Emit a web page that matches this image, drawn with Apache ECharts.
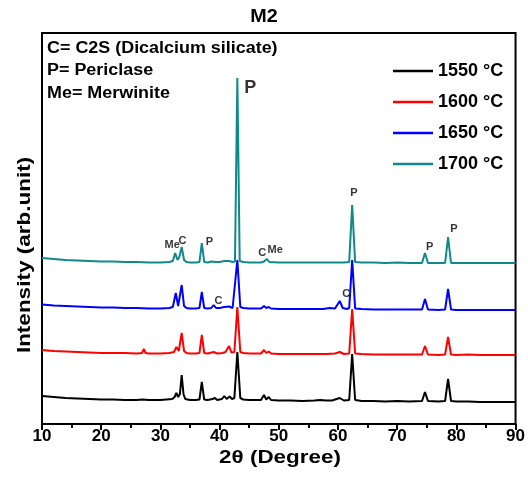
<!DOCTYPE html>
<html>
<head>
<meta charset="utf-8">
<script src="https://cdn.jsdelivr.net/npm/echarts@6/dist/echarts.min.js"></script>
<style>
html,body{margin:0;padding:0;background:#fff;}
#chart{width:528px;height:482px;}
</style>
</head>
<body>
<div id="chart"></div>
<script>
// ---- data (2θ in degrees, stacked intensity in arbitrary units) ----
var seriesNames = ['1550 °C', '1600 °C', '1650 °C', '1700 °C'];
var xTicks = [10, 20, 30, 40, 50, 60, 70, 80, 90];

var black1550 = [
[10,28],[12,27],[14,26],[16,25.5],[18,25],[20,24.5],[22,24.5],[24,24],[26,24],[27,24.5],[28,24],[30,24],[31,24.5],[32,25],
[32.4,27],[32.7,31],[33.0,27],[33.3,30],[33.6,49],[33.9,30],[34.2,25],[35,24],[36,24],[36.6,24.5],[37.0,42],[37.4,24.5],[38,24],[38.8,25],[39.2,26],[39.6,24],[40.4,25],[40.8,28],[41.2,25],[41.7,27.5],[42.1,25],[42.5,26],
[43.0,72],[43.5,26],[44,24.5],[45,24],[46,24],[47,24],[47.5,29],[47.9,24.5],[48.3,27],[48.7,24],[50,23.5],[52,23.5],[54,23],[56,23.5],[57,24],[58,23.5],[59,23.5],[60.3,26],[61,23.5],[61.9,24],
[62.4,70],[62.9,24],[64,23],[66,23],[68,22.5],[70,23],[72,22.5],[74.2,23],[74.7,32],[75.2,23],[77,22.5],[78.1,23],[78.6,45],[79.1,23],[80,22.5],[82,22.5],[84,22],[86,22],[88,22],[90,22]
];
var red1600 = [
[10,74],[12,73],[14,72.5],[16,72],[18,71.5],[20,71],[22,71],[24,71],[26,70.5],[26.9,71],[27.2,75],[27.5,71],[28,70.5],[30,70.5],[31.5,71],[32.3,72],[32.7,77],[33.1,73],[33.6,91],[34.0,73],[34.4,71],
[35,70.5],[36,70.5],[36.6,71],[37.0,89],[37.4,71],[38,70.5],[39,72],[39.6,70.5],[40.5,71],[41.0,72],[41.6,78],[42.0,71.5],[42.5,72],[43.0,117],[43.5,72],[44,71],[45,70.5],[46,70.5],[47,70.5],
[47.5,74],[47.9,71],[48.3,72.5],[48.7,70.5],[50,70],[52,70],[54,70],[56,70],[58,70],[59.5,70.5],[60.3,72],[61,70],[61.9,70.5],[62.4,115],[62.9,70.5],[64,70],[66,69.5],[68,69.5],[70,69.5],[72,69.5],
[74.2,69.5],[74.7,78],[75.2,69.5],[77,69],[78.1,69.5],[78.6,87],[79.1,69.5],[80,69],[82,69.5],[84,69],[86,69],[88,69],[90,69]
];
var blue1650 = [
[10,119.5],[12,118.5],[14,118],[16,117.5],[18,117],[20,116.5],[22,116.5],[24,116],[26,116],[28,115.5],[30,115.5],[31.5,116],[32.1,117],[32.6,131],[33.0,118],[33.6,139],[34.0,118],[34.4,116],
[35,115.5],[36,115.5],[36.6,116],[37.0,132],[37.4,116],[38,115.5],[38.6,116],[39.0,119],[39.4,116],[40,116],[40.8,117],[41.6,117.5],[42.2,116],[42.5,116.5],[43.0,164],[43.5,117],[44,116],[45,115.5],[46,115.5],[47,115.5],
[47.5,118],[47.9,116],[48.3,117],[48.7,115.5],[50,115],[52,115],[54,115],[56,115],[57.5,115],[58.6,116],[59.5,115.5],[60.3,123],[60.8,116],[61.5,115],[61.9,116],[62.4,164],[62.9,115.5],[64,115],[66,114.5],[68,114.5],[70,114.5],[72,114.5],
[74.2,114.5],[74.7,125],[75.2,114.5],[77,114],[78.1,114.5],[78.6,135],[79.1,114.5],[80,114],[82,114],[84,114],[86,114],[88,114],[90,114]
];
var teal1700 = [
[10,166],[12,165],[14,164],[16,163.5],[18,163],[20,162.5],[22,162.5],[24,162],[26,162],[28,161.5],[30,161.5],[31.5,162],[32.1,163],[32.5,171],[32.9,164],[33.2,167],[33.6,177],[34.0,164],[34.4,162],
[35,161.5],[36,161.5],[36.6,162],[37.0,181],[37.4,162],[38,161.5],[38.6,162.5],[39.4,162],[40,162],[40.8,163],[41.6,163],[42.2,162],[42.6,162.5],[43.0,346],[43.4,163],[44,162],[45,161.5],[46,161.5],[47,161.5],
[47.5,162.5],[48.0,165],[48.4,162],[50,161.5],[52,161.5],[54,161.5],[56,161.5],[58,161.5],[60,161.5],[61,161.5],[61.9,162],[62.4,219],[62.9,162],[64,161.5],[66,161.5],[68,161],[70,161.5],[72,161],
[74.2,161],[74.7,171],[75.2,161],[77,161],[78.1,161],[78.6,187],[79.1,161],[80,161],[82,161],[84,161],[86,161],[88,161],[90,161]
];

// phase annotations: [label, 2θ, intensity, fontSize]
var annotations = [
['Me', 32.0, 179, 11], ['C', 33.75, 183, 11], ['P', 38.3, 182, 11],
['C', 39.8, 123, 11], ['C', 47.2, 171, 11], ['Me', 49.4, 174, 11],
['P', 45.2, 336, 18], ['P', 62.7, 231, 11], ['C', 61.4, 130, 11],
['P', 75.5, 177, 11], ['P', 79.6, 195, 11]
];
var keyLines = ['C= C2S (Dicalcium silicate)', 'P= Periclase', 'Me= Merwinite'];

// ---- chart ----
var FONT = '"Liberation Sans", Arial, sans-serif';
var colors = ['#000000', '#ff0000', '#0000ff', '#10898a'];
var dataSets = [black1550, red1600, blue1650, teal1700];

var chart = echarts.init(document.getElementById('chart'), null, {renderer: 'canvas'});

var series = dataSets.map(function (d, i) {
  return {
    name: seriesNames[i], type: 'line', data: d, showSymbol: false, symbol: 'none',
    lineStyle: {width: 2, color: colors[i]}, itemStyle: {color: colors[i]},
    animation: false, z: 2 + i
  };
});
series.push({
  type: 'scatter', symbolSize: 0, silent: true, animation: false, z: 10,
  data: annotations.map(function (a) {
    return {value: [a[1], a[2]], label: {show: true, position: 'inside', formatter: a[0],
      fontSize: a[3], fontWeight: 'bold', color: '#000', fontFamily: FONT}};
  })
});

var centers = [49, 71, 94];
var graphics = keyLines.map(function (t, i) {
  return {type: 'text', x: 47, y: centers[i], scaleX: 1.12, z: 20,
    style: {text: t, font: 'bold 16px ' + FONT, fill: '#000', textVerticalAlign: 'middle'}};
});
graphics.push({type: 'text', x: 25, y: 255, rotation: Math.PI / 2, scaleX: 1.25, z: 20,
  style: {text: 'Intensity (arb.unit)', font: 'bold 18px ' + FONT, fill: '#000',
    textAlign: 'center', textVerticalAlign: 'middle'}});
graphics.push({type: 'text', x: 280, y: 458, scaleX: 1.18, z: 20,
  style: {text: '2θ (Degree)', font: 'bold 19px ' + FONT, fill: '#000',
    textAlign: 'center', textVerticalAlign: 'middle'}});
graphics.push({type: 'text', x: 264, y: 17, scaleX: 1.1, z: 20,
  style: {text: 'M2', font: 'bold 18px ' + FONT, fill: '#000',
    textAlign: 'center', textVerticalAlign: 'middle'}});

chart.setOption({
  backgroundColor: '#fff',
  animation: false,
  grid: {left: 42, right: 11, top: 33, bottom: 58, show: true, borderColor: '#000', borderWidth: 2, backgroundColor: 'transparent'},
  legend: {
    data: seriesNames, orient: 'vertical', left: 388, top: 57,
    icon: 'rect', itemWidth: 40, itemHeight: 2.5, itemGap: 13,
    textStyle: {fontSize: 18, fontWeight: 'bold', color: '#000', fontFamily: FONT}
  },
  xAxis: {
    type: 'value', min: xTicks[0], max: xTicks[xTicks.length - 1], interval: 10,
    axisLine: {show: true, lineStyle: {color: '#000', width: 2}},
    axisTick: {show: true, length: 6, lineStyle: {color: '#000', width: 2}},
    minorTick: {show: true, splitNumber: 2, length: 4, lineStyle: {color: '#000', width: 2}},
    axisLabel: {margin: 4, fontSize: 17, fontWeight: 'bold', color: '#000', fontFamily: FONT},
    splitLine: {show: false}
  },
  yAxis: {
    type: 'value', min: 0, max: 391,
    axisLine: {show: true, lineStyle: {color: '#000', width: 2}},
    axisTick: {show: false}, axisLabel: {show: false}, splitLine: {show: false}
  },
  graphic: graphics,
  series: series
});
</script>
</body>
</html>
